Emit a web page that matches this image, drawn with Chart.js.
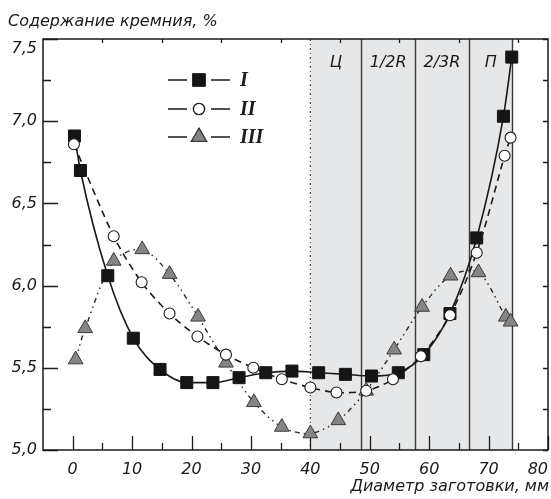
<!DOCTYPE html>
<html>
<head>
<meta charset="utf-8">
<script src="https://cdn.jsdelivr.net/npm/chart.js@4/dist/chart.umd.min.js"></script>
<style>
  body { margin: 0; background: #fff; }
  canvas { display: block; }
</style>
</head>
<body>
<canvas id="chart" width="551" height="499"></canvas>
<script>
// Si content along billet diameter
const xI = [0.3, 1.3, 5.9, 10.2, 14.7, 19.2, 23.6, 28.0, 32.5, 36.9, 41.4, 45.9, 50.3, 54.8, 59.1, 63.5, 68.0, 72.5, 73.9];
const yI = [6.91, 6.70, 6.06, 5.68, 5.49, 5.41, 5.41, 5.44, 5.47, 5.48, 5.47, 5.46, 5.45, 5.47, 5.58, 5.83, 6.29, 7.03, 7.39];

const xII = [0.2, 6.9, 11.6, 16.3, 21.0, 25.8, 30.4, 35.2, 40.0, 44.4, 49.4, 53.9, 58.6, 63.5, 68.0, 72.7, 73.7];
const yII = [6.86, 6.30, 6.02, 5.83, 5.69, 5.58, 5.50, 5.43, 5.38, 5.35, 5.36, 5.43, 5.57, 5.82, 6.20, 6.79, 6.90];

const xIII = [0.5, 2.1, 6.9, 11.7, 16.3, 21.1, 25.8, 30.5, 35.2, 40.0, 44.7, 49.4, 54.1, 58.8, 63.6, 68.3, 72.9, 73.7];
const yIII = [5.55, 5.74, 6.15, 6.22, 6.07, 5.81, 5.53, 5.29, 5.14, 5.10, 5.18, 5.36, 5.61, 5.87, 6.06, 6.08, 5.81, 5.78];

const seriesNames = ['I', 'II', 'III'];

const xTicks = [0, 10, 20, 30, 40, 50, 60, 70, 80];
const xTickLabels = ['0', '10', '20', '30', '40', '50', '60', '70', '80'];
const yTicks = [5.0, 5.5, 6.0, 6.5, 7.0, 7.5];
const yTickLabels = ['5,0', '5,5', '6,0', '6,5', '7,0', '7,5'];

// zones of the billet section
const zoneStart = 40;
const zoneEdges = [48.6, 57.6, 66.7, 74.0];
const zoneLabels = ['Ц', '1/2R', '2/3R', 'П'];

const toPoints = (xs, ys) => xs.map((x, i) => ({ x: x, y: ys[i] }));

const FONT = '"DejaVu Sans", "Liberation Sans", sans-serif';
const INK = '#1a1a1a';

const decor = {
  id: 'decor',
  beforeDatasetsDraw(chart) {
    const { ctx, chartArea: a, scales: { x, y } } = chart;
    ctx.save();
    // shaded zone
    const x0 = x.getPixelForValue(zoneStart);
    const x1 = x.getPixelForValue(zoneEdges[zoneEdges.length - 1]);
    ctx.fillStyle = '#e6e7e8';
    ctx.fillRect(x0, a.top, x1 - x0, a.bottom - a.top);

    // dotted boundary at the centre
    ctx.strokeStyle = '#333';
    ctx.lineWidth = 1;
    ctx.setLineDash([2, 3, 1, 3]);
    ctx.beginPath();
    ctx.moveTo(x0, a.top);
    ctx.lineTo(x0, a.bottom);
    ctx.stroke();
    ctx.setLineDash([]);

    ctx.strokeStyle = '#3a3a3a';
    ctx.lineWidth = 1.4;
    zoneEdges.forEach(v => {
      const px = Math.round(x.getPixelForValue(v)) + 0.5;
      ctx.beginPath();
      ctx.moveTo(px, a.top);
      ctx.lineTo(px, a.bottom);
      ctx.stroke();
    });

    // zone labels
    ctx.fillStyle = INK;
    ctx.font = 'italic 16px ' + FONT;
    ctx.textAlign = 'center';
    ctx.textBaseline = 'middle';
    const bounds = [zoneStart].concat(zoneEdges);
    zoneLabels.forEach((t, i) => {
      const cx = (x.getPixelForValue(bounds[i]) + x.getPixelForValue(bounds[i + 1])) / 2;
      ctx.fillText(t, cx, a.top + 24);
    });

    // frame
    ctx.strokeStyle = INK;
    ctx.lineWidth = 1.5;
    ctx.strokeRect(a.left, a.top, a.right - a.left, a.bottom - a.top);

    // inward ticks
    ctx.lineWidth = 1.3;
    ctx.beginPath();
    for (let v = 0; v <= 80; v += 5) {
      const px = Math.round(x.getPixelForValue(v)) + 0.5;
      const major = v % 10 === 0;
      ctx.moveTo(px, a.bottom);
      ctx.lineTo(px, a.bottom - (major ? 14 : 7));
      if (!major) {
        ctx.moveTo(px, a.top);
        ctx.lineTo(px, a.top + 4);
      }
    }
    for (let v = 5.0; v <= 7.5001; v += 0.25) {
      const py = Math.round(y.getPixelForValue(v)) + 0.5;
      const major = Math.abs(v * 2 - Math.round(v * 2)) < 1e-6;
      ctx.moveTo(a.left, py);
      ctx.lineTo(a.left + (major ? 15 : 8), py);
      ctx.moveTo(a.right, py);
      ctx.lineTo(a.right - 5, py);
    }
    ctx.stroke();
    ctx.restore();
  },
  afterDraw(chart) {
    const { ctx } = chart;
    ctx.save();
    // axis titles
    ctx.fillStyle = INK;
    ctx.font = 'italic 16px ' + FONT;
    ctx.textBaseline = 'alphabetic';
    ctx.textAlign = 'left';
    ctx.fillText('Содержание кремния, %', 8, 26);
    ctx.textAlign = 'right';
    ctx.fillText('Диаметр заготовки, мм', 549, 491);

    // legend: line - marker - line, then numeral
    const rows = [80, 109, 137];
    chart.data.datasets.forEach((ds, i) => {
      const yy = rows[i];
      ctx.strokeStyle = INK;
      ctx.lineWidth = 1.6;
      ctx.beginPath();
      ctx.moveTo(168, yy); ctx.lineTo(187, yy);
      ctx.moveTo(211, yy); ctx.lineTo(230, yy);
      ctx.stroke();
      Chart.helpers.drawPoint(ctx, {
        pointStyle: ds.pointStyle,
        radius: ds.pointRadius,
        borderWidth: ds.pointBorderWidth
      }, 199, yy);
      ctx.fillStyle = ds.pointBackgroundColor;
      ctx.strokeStyle = ds.pointBorderColor;
      ctx.lineWidth = ds.pointBorderWidth;
      ctx.fill();
      ctx.stroke();
      ctx.fillStyle = INK;
      ctx.font = 'bold italic 20px "Liberation Serif", "Times New Roman", serif';
      ctx.textAlign = 'left';
      ctx.textBaseline = 'middle';
      ctx.fillText(seriesNames[i], 240, yy + 1);
    });
    ctx.restore();
  }
};

new Chart(document.getElementById('chart'), {
  type: 'line',
  data: {
    datasets: [
      {
        label: seriesNames[0],
        data: toPoints(xI, yI),
        borderColor: INK,
        borderWidth: 1.6,
        cubicInterpolationMode: 'monotone',
        pointStyle: 'rect',
        pointRadius: 8.5,
        pointBackgroundColor: '#151515',
        pointBorderColor: '#151515',
        pointBorderWidth: 1,
        order: 1
      },
      {
        label: seriesNames[1],
        data: toPoints(xII, yII),
        borderColor: INK,
        borderWidth: 1.6,
        borderDash: [7, 5],
        tension: 0.3,
        pointStyle: 'circle',
        pointRadius: 5.5,
        pointBackgroundColor: '#ffffff',
        pointBorderColor: INK,
        pointBorderWidth: 1.1,
        order: 0
      },
      {
        label: seriesNames[2],
        data: toPoints(xIII, yIII),
        borderColor: '#2a2a2a',
        borderWidth: 1.4,
        borderDash: [5, 4, 1.5, 4, 1.5, 4],
        tension: 0.3,
        pointStyle: 'triangle',
        pointRadius: 8.5,
        pointBackgroundColor: '#858585',
        pointBorderColor: '#3a3a3a',
        pointBorderWidth: 1,
        order: 2
      }
    ]
  },
  options: {
    responsive: false,
    animation: false,
    layout: { autoPadding: false, padding: { top: 39, right: 3, left: 0, bottom: 0 } },
    plugins: { legend: { display: false }, tooltip: { enabled: false } },
    scales: {
      x: {
        type: 'linear',
        min: -5,
        max: 80,
        afterBuildTicks: s => { s.ticks = xTicks.map(v => ({ value: v })); },
        afterFit: s => { s.height = 49; s.paddingLeft = 0; s.paddingRight = 0; },
        grid: { display: false, drawTicks: false },
        border: { display: false },
        ticks: {
          padding: 10,
          maxRotation: 0,
          color: INK,
          font: { family: FONT, size: 16, style: 'italic' },
          // the last label sits a little inside the frame, as in the original
          callback: (v, i) => i === xTickLabels.length - 1 ? xTickLabels[i] + '    ' : xTickLabels[i]
        }
      },
      y: {
        min: 5.0,
        max: 7.5,
        afterBuildTicks: s => { s.ticks = yTicks.map(v => ({ value: v })); },
        afterFit: s => { s.width = 43; s.paddingTop = 0; s.paddingBottom = 0; },
        grid: { display: false, drawTicks: false },
        border: { display: false },
        ticks: {
          padding: 6,
          color: INK,
          font: { family: FONT, size: 16, style: 'italic' },
          // top label is dropped just below the frame corner
          callback: (v, i) => i === yTickLabels.length - 1 ? ['', yTickLabels[i]] : yTickLabels[i]
        }
      }
    }
  },
  plugins: [decor]
});
</script>
</body>
</html>
